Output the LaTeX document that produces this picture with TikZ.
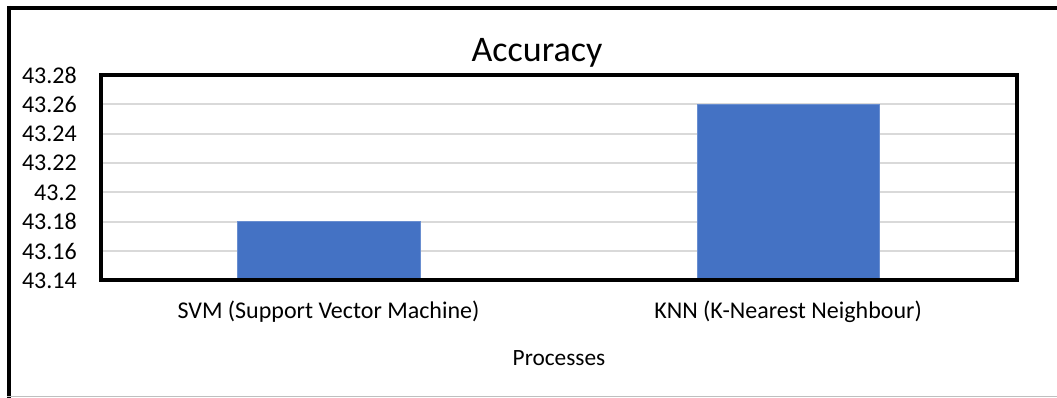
\documentclass[tikz,border=0pt]{standalone}
\usepackage{fontspec}
\setmainfont{Carlito}
\definecolor{barblue}{HTML}{4472C4}
\definecolor{gridgrey}{HTML}{D9D9D9}
\definecolor{framegrey}{HTML}{BFBFBF}
\begin{document}
\begin{tikzpicture}[x=0.75pt,y=-0.75pt,
  ticklabel/.style={anchor=east,inner sep=0pt,font=\fontsize{18}{18}\selectfont},
  catlabel/.style={anchor=base,inner sep=0pt,font=\fontsize{18}{18}\selectfont},
  gridline/.style={draw=gridgrey,line width=1.5pt},
  bar/.style={fill=barblue,draw=barblue!80!white,line width=0.6pt}]
\useasboundingbox (0,0) rectangle (1057,398);
\fill[white] (0,0) rectangle (1057,398);
% outer chart frame
\draw[line width=2.4pt] (7,8) -- (1057,8);
\draw[line width=3pt] (9,6) -- (9,398);
\draw[framegrey,line width=1pt] (7,396.5) -- (1057,396.5);
% gridlines and tick labels
\foreach \i/\lab in {0/43.14,1/43.16,2/43.18,3/43.2,4/43.22,5/43.24,6/43.26,7/43.28}{
  \pgfmathsetmacro{\yy}{280.5-\i*29.36}
  \ifnum\i>0 \ifnum\i<7 \draw[gridline] (101,\yy) -- (1016,\yy); \fi\fi
  \node[ticklabel] (t\i) at (77,\yy) {\lab};
}
% bars
\path[bar] (237.5,280.5) rectangle (420.5,221.8);
\path[bar] (697.5,280.5) rectangle (879.5,104.3);
% plot area frame
\draw[line width=3pt,line join=miter] (100.5,75) rectangle (1017,280.5);
% texts
\node[anchor=base,inner sep=0pt,font=\fontsize{27}{27}\selectfont] (title) at (537,62) {Accuracy};
\node[catlabel] (svm) at (328.5,318.5) {SVM (Support Vector Machine)};
\node[catlabel] (knn) at (788,318.5) {KNN (K-Nearest Neighbour)};
\node[catlabel,font=\fontsize{17.5}{17.5}\selectfont] (xtitle) at (559,366) {Processes};
\end{tikzpicture}
\end{document}
